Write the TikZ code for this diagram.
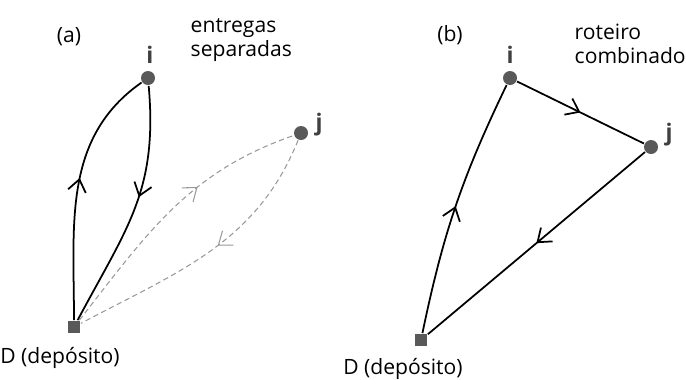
\documentclass[tikz,border=0pt]{standalone}
\usepackage{fontspec}
\setmainfont{Open Sans}
\usetikzlibrary{arrows.meta,decorations.markings,positioning}

\tikzset{
  cliente/.style={circle, fill=black!65, minimum size=2.8mm, inner sep=0pt},
  deposito/.style={rectangle, fill=black!65, minimum size=2.4mm, inner sep=0pt},
  rotulo/.style={font=\bfseries\fontsize{13}{15}\selectfont, text=black!75},
  texto/.style={font=\fontsize{12}{14}\selectfont},
  meio/.style={postaction={decorate}, decoration={markings,
      mark=at position #1 with {\arrow{Straight Barb[length=2.4mm,width=3.6mm]}}}},
  meio/.default=0.5,
  tracejado/.style={densely dashed, black!40, line width=0.6pt}
}

\begin{document}
\begin{tikzpicture}[line width=1pt]
  \useasboundingbox (0,0) rectangle (13.72,7.58);
  % (a) entregas separadas
  \node[texto] (ta) at (1.38,6.84) {(a)};
  \node[texto, anchor=west, align=left] (ea) at (3.68,6.78) {entregas\\separadas};
  \node[deposito] (Da) at (1.48,1.04) {};
  \node[cliente] (ia) at (2.96,6.02) {};
  \node[cliente] (ja) at (6.02,4.92) {};
  \node[rotulo, above=0pt of ia, xshift=1pt] (lia) {i};
  \node[rotulo, right=0pt of ja, yshift=5pt] (lja) {j};
  \node[texto] (da) at (1.2,0.42) {D (depósito)};
  \draw[meio=0.55] (Da) to[out=90, in=215] (ia);
  \draw[meio=0.45] (ia) to[out=-85, in=62, looseness=1.1] (Da);
  \draw[tracejado, meio=0.62] (Da) to[out=52, in=199] (ja);
  \draw[tracejado, meio=0.46] (ja) to[out=-112, in=28] (Da);
  % (b) roteiro combinado
  \node[texto] (tb) at (9.0,6.88) {(b)};
  \node[texto, anchor=west, align=left] (eb) at (11.36,6.7) {roteiro\\combinado};
  \node[deposito] (Db) at (8.42,0.78) {};
  \node[cliente] (ib) at (10.2,6.02) {};
  \node[cliente] (jb) at (13.02,4.64) {};
  \node[rotulo, above=0pt of ib] (lib) {i};
  \node[rotulo, right=0pt of jb, yshift=7pt] (ljb) {j};
  \node[texto] (db) at (8.06,0.2) {D (depósito)};
  \draw[meio] (Db) to[bend left=7] (ib);
  \draw[meio] (ib) -- (jb);
  \draw[meio] (jb) -- (Db);
\end{tikzpicture}
\end{document}
